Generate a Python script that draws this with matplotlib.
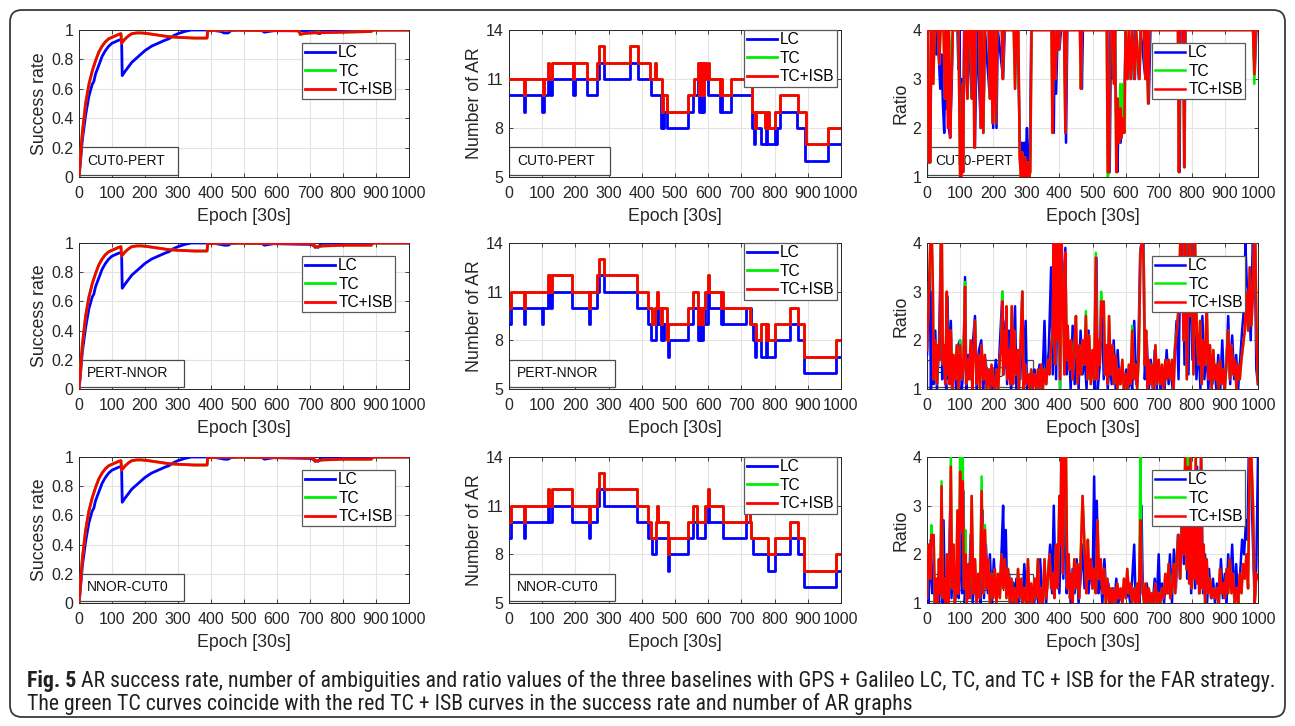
import numpy as np
import matplotlib.pyplot as plt
from matplotlib import font_manager
from matplotlib.patches import FancyBboxPatch, Rectangle

plt.rcParams['font.family'] = ['Liberation Sans', 'DejaVu Sans']

# ---------------- data ----------------
epoch_ticks = list(range(0, 1001, 100))
series_names = ["LC", "TC", "TC+ISB"]
baselines = ["CUT0-PERT", "PERT-NNOR", "NNOR-CUT0"]

# success rate, (epoch, value)
sr_cp_lc = [(0,0.0),(3,0.06),(10,0.25),(20,0.42),(30,0.55),(40,0.63),(45,0.65),(50,0.70),(60,0.76),
            (70,0.82),(80,0.86),(90,0.89),(100,0.91),(110,0.92),(120,0.93),(129,0.935),(131,0.69),
            (140,0.72),(160,0.78),(180,0.82),(200,0.86),(220,0.89),(240,0.91),(260,0.93),(272,0.94),
            (276,0.945),(285,0.96),(300,0.975),(320,0.99),(340,1.0),(400,1.0),(430,0.99),(440,0.98),
            (452,0.98),(460,0.995),(480,1.0),(555,0.995),(562,0.985),(575,0.99),(590,0.995),(700,0.995),
            (722,0.98),(730,0.975),(736,0.995),(880,0.995),(890,1.0),(1000,1.0)]
sr_cp_isb = [(0,0.0),(5,0.15),(10,0.30),(20,0.50),(30,0.63),(40,0.72),(50,0.79),(60,0.85),(70,0.89),
             (80,0.92),(90,0.94),(100,0.95),(110,0.96),(120,0.97),(127,0.975),(129,0.91),(140,0.94),
             (150,0.96),(160,0.975),(175,0.98),(190,0.98),(210,0.975),(240,0.965),(270,0.955),(300,0.95),
             (350,0.945),(388,0.945),(390,0.995),(430,1.0),(660,0.995),(668,0.99),(670,0.97),(680,0.975),
             (700,0.98),(800,0.985),(886,0.99),(890,1.0),(1000,1.0)]
sr_pn_lc = [(0,0.0),(3,0.06),(10,0.25),(20,0.42),(30,0.55),(40,0.63),(45,0.65),(50,0.70),(60,0.76),
            (70,0.82),(80,0.86),(90,0.89),(100,0.91),(110,0.92),(120,0.93),(129,0.935),(131,0.69),
            (140,0.72),(160,0.78),(180,0.82),(200,0.86),(220,0.89),(240,0.91),(260,0.93),(272,0.94),
            (276,0.945),(285,0.96),(300,0.975),(320,0.99),(340,1.0),(400,1.0),(430,0.99),(440,0.985),
            (452,0.985),(460,0.995),(480,1.0),(555,0.995),(562,0.985),(575,0.99),(590,0.995),(705,0.99),
            (715,0.975),(725,0.97),(732,0.99),(880,0.995),(890,1.0),(1000,1.0)]
sr_pn_isb = [(0,0.0),(5,0.15),(10,0.30),(20,0.50),(30,0.63),(40,0.72),(50,0.79),(60,0.85),(70,0.89),
             (80,0.92),(90,0.94),(100,0.95),(110,0.96),(120,0.97),(127,0.975),(129,0.91),(140,0.94),
             (150,0.96),(160,0.975),(175,0.98),(190,0.98),(210,0.975),(240,0.965),(270,0.955),(300,0.95),
             (350,0.945),(388,0.945),(390,0.995),(430,1.0),(705,0.995),(712,0.99),(715,0.97),(722,0.975),
             (740,0.98),(800,0.985),(886,0.985),(890,1.0),(1000,1.0)]
sr_nc_lc = [(0,0.0),(3,0.06),(10,0.25),(20,0.42),(30,0.55),(40,0.63),(45,0.65),(50,0.70),(60,0.76),
            (70,0.82),(80,0.86),(90,0.89),(100,0.91),(110,0.92),(120,0.93),(129,0.935),(131,0.69),
            (140,0.72),(160,0.78),(180,0.82),(200,0.86),(220,0.89),(240,0.91),(260,0.93),(272,0.94),
            (276,0.945),(285,0.96),(300,0.975),(320,0.99),(340,1.0),(400,1.0),(430,0.99),(440,0.985),
            (452,0.985),(460,0.995),(480,1.0),(555,0.995),(562,0.985),(575,0.99),(590,0.995),(705,0.99),
            (715,0.975),(725,0.97),(732,0.99),(880,0.995),(890,1.0),(1000,1.0)]
sr_nc_isb = [(0,0.0),(5,0.15),(10,0.30),(20,0.50),(30,0.63),(40,0.72),(50,0.79),(60,0.85),(70,0.89),
             (80,0.92),(90,0.94),(100,0.95),(110,0.96),(120,0.97),(127,0.975),(129,0.91),(140,0.94),
             (150,0.96),(160,0.975),(175,0.98),(190,0.98),(210,0.975),(240,0.965),(270,0.955),(300,0.95),
             (350,0.945),(388,0.945),(390,0.995),(430,1.0),(705,0.995),(712,0.99),(715,0.97),(722,0.975),
             (740,0.98),(800,0.985),(886,0.985),(890,1.0),(1000,1.0)]

# number of AR, (epoch where value starts, value)
ar_cp_lc = [(0,10),(45,9),(49,10),(100,9),(104,10),(118,11),(122,10),(131,11),(194,10),(198,11),(234,10),
            (264,11),(272,12),(287,11),(365,12),(388,11),(428,10),(458,8),(462,9),(465,8),(468,9),(477,8),
            (540,9),(555,10),(570,11),(573,9),(576,11),(579,9),(582,11),(585,9),(588,11),(600,10),(635,9),
            (640,10),(643,9),(670,10),(733,8),(738,7),(742,8),(760,7),(774,8),(778,7),(800,8),(803,7),
            (808,8),(815,9),(868,8),(893,6),(960,7),(1000,7)]
ar_cp_isb = [(0,11),(45,10),(49,11),(103,10),(106,11),(118,12),(121,11),(130,12),(192,11),(196,12),
             (235,11),(265,12),(272,13),(285,12),(365,13),(388,12),(425,11),(440,12),(443,11),(460,9),
             (464,10),(477,9),(540,10),(558,11),(570,12),(573,10),(576,12),(579,10),(582,12),(585,10),
             (588,12),(592,11),(598,12),(603,11),(635,10),(638,11),(641,10),(670,11),(733,9),(740,8),
             (743,9),(770,8),(778,9),(782,8),(800,9),(815,10),(870,9),(895,7),(960,8),(1000,8)]
ar_pn_lc = [(0,9),(5,10),(45,9),(48,10),(100,9),(103,10),(118,11),(122,10),(130,11),(190,10),(240,9),
            (243,10),(265,11),(272,12),(285,11),(385,10),(418,9),(428,8),(443,9),(446,10),(449,9),(458,8),
            (462,9),(465,8),(468,9),(478,7),(482,8),(540,9),(555,10),(570,8),(573,10),(576,8),(579,10),
            (582,8),(585,10),(590,9),(598,11),(603,10),(640,9),(643,10),(646,9),(715,10),(728,9),(735,8),
            (740,7),(745,8),(760,7),(774,8),(778,7),(800,8),(845,9),(870,8),(890,6),(985,7),(1000,7)]
ar_pn_isb = [(0,10),(5,11),(45,10),(48,11),(118,12),(122,11),(130,12),(190,11),(240,10),(243,11),
             (265,12),(272,13),(285,12),(385,11),(420,10),(430,9),(440,10),(447,11),(450,10),(458,9),
             (462,10),(475,8),(478,9),(540,10),(555,11),(570,9),(573,10),(576,9),(579,10),(582,9),
             (585,10),(590,11),(598,12),(603,11),(640,10),(643,11),(646,10),(725,9),(745,8),(760,9),
             (775,8),(778,9),(781,8),(800,9),(845,10),(870,9),(890,7),(985,8),(1000,8)]
ar_nc_lc = [(0,9),(5,10),(45,9),(48,10),(118,11),(121,10),(130,11),(190,10),(240,9),(243,10),(265,11),
            (272,12),(285,11),(385,10),(420,9),(430,8),(443,9),(478,7),(482,8),(540,9),(555,10),(565,9),
            (590,10),(598,11),(602,10),(645,9),(715,10),(730,9),(735,8),(780,7),(800,8),(845,9),(870,8),
            (890,6),(985,7),(1000,7)]
ar_nc_isb = [(0,10),(5,11),(45,10),(48,11),(118,12),(121,11),(130,12),(190,11),(240,10),(243,11),
             (265,12),(272,13),(285,12),(385,11),(420,10),(428,9),(443,10),(447,11),(450,10),(478,8),
             (481,9),(540,10),(555,11),(565,10),(590,11),(598,12),(602,11),(645,10),(715,11),(725,10),
             (730,9),(780,8),(800,9),(845,10),(870,9),(890,7),(985,8),(1000,8)]
# the TC curves coincide with TC+ISB for success rate and number of AR
sr_cp_tc, sr_pn_tc, sr_nc_tc = list(sr_cp_isb), list(sr_pn_isb), list(sr_nc_isb)
ar_cp_tc, ar_pn_tc, ar_nc_tc = list(ar_cp_isb), list(ar_pn_isb), list(ar_nc_isb)

# ratio, (epoch, value) ; values above 4 shown at 4
rt_cp_lc = [(0,3.2),(3,4.0),(5,1.3),(10,1.3),(13,4.0),(18,3.0),(22,4.0),(28,3.5),(32,4.0),(36,3.4),
            (40,2.8),(44,3.5),(48,2.5),(52,1.9),(55,3.3),(58,2.4),(62,3.4),(66,2.0),(70,1.8),(75,3.0),
            (78,4.0),(92,4.0),(95,3.2),(98,4.0),(102,1.0),(106,3.0),(109,1.1),(112,4.0),(122,2.6),
            (126,4.0),(135,2.6),(140,4.0),(145,1.6),(150,4.0),(163,2.0),(166,4.0),(170,1.9),(175,4.0),
            (190,2.6),(195,4.0),(200,2.0),(205,4.0),(210,2.0),(214,4.0),(230,3.0),(235,4.0),(270,4.0),
            (276,3.2),(282,1.2),(286,1.7),(290,1.0),(294,1.7),(298,1.3),(302,2.0),(306,1.0),(310,1.0),
            (315,4.0),(380,4.0),(383,1.9),(386,4.0),(390,2.7),(395,4.0),(400,3.6),(405,4.0),(415,4.0),
            (420,1.7),(424,4.0),(465,4.0),(468,2.8),(471,4.0),(545,4.0),(548,1.1),(552,1.1),(556,4.0),
            (562,3.0),(565,3.2),(568,4.0),(572,2.0),(575,1.1),(580,2.5),(585,1.7),(590,2.3),(595,1.9),
            (600,4.0),(605,3.0),(610,4.0),(615,3.0),(620,4.0),(625,3.0),(630,4.0),(640,3.0),(645,4.0),
            (660,3.0),(663,4.0),(670,2.5),(675,4.0),(760,4.0),(763,1.1),(766,4.0),(775,4.0),(778,1.2),
            (781,4.0),(985,4.0),(990,3.1),(995,4.0),(1000,4.0)]
rt_cp_isb = [(0,4.0),(3,4.0),(5,1.3),(10,1.3),(13,4.0),(19,2.9),(23,4.0),(33,4.0),(37,3.3),(41,4.0),
             (50,4.0),(54,2.6),(58,4.0),(63,2.0),(66,4.0),(70,1.8),(74,3.0),(78,4.0),(95,4.0),(100,1.0),
             (104,1.0),(107,2.9),(109,1.1),(113,4.0),(118,4.0),(122,2.6),(126,4.0),(133,4.0),(136,2.6),
             (140,4.0),(143,1.6),(147,4.0),(158,4.0),(162,2.0),(166,4.0),(170,1.9),(175,4.0),(186,4.0),
             (190,2.6),(194,4.0),(198,2.1),(203,4.0),(208,2.1),(212,4.0),(226,4.0),(229,3.0),(233,4.0),
             (262,4.0),(266,2.8),(270,4.0),(276,4.0),(280,1.4),(284,1.0),(288,1.5),(292,1.0),(296,1.4),
             (300,1.0),(304,1.3),(308,1.0),(312,1.1),(316,4.0),(376,4.0),(379,1.9),(383,4.0),(388,3.0),
             (392,4.0),(398,3.6),(402,4.0),(414,4.0),(418,1.9),(422,4.0),(462,4.0),(465,2.8),(468,4.0),
             (543,4.0),(546,1.1),(550,1.1),(554,4.0),(562,4.0),(565,2.9),(568,4.0),(572,1.1),(576,2.6),
             (580,1.7),(584,2.4),(588,1.8),(592,2.2),(596,1.9),(600,4.0),(606,3.0),(610,4.0),(616,3.0),
             (620,4.0),(628,3.0),(632,4.0),(642,3.0),(646,4.0),(655,4.0),(660,3.0),(663,4.0),(668,2.5),
             (672,4.0),(758,4.0),(761,1.1),(764,4.0),(774,4.0),(777,1.2),(780,4.0),(985,4.0),(989,3.1),
             (993,4.0),(1000,4.0)]
rt_cp_tc_peaks = {63: 4.0, 70: 3.6, 546: 1.0, 584: 2.9, 592: 2.9, 989: 2.9}

rt_pn_lc = [(0,1.7),(4,2.5),(8,3.4),(12,1.0),(16,3.0),(20,1.1),(25,2.2),(30,1.0),(36,1.8),(42,4.0),
            (46,1.2),(52,1.7),(58,1.0),(62,2.9),(66,1.2),(72,2.4),(76,1.0),(82,1.6),(88,1.0),(94,1.9),
            (100,2.0),(105,1.0),(110,1.4),(115,3.3),(119,1.0),(125,1.7),(132,1.2),(138,1.9),(145,2.5),
            (150,1.0),(157,1.8),(164,2.0),(170,1.0),(177,1.6),(183,1.1),(190,1.4),(196,1.0),(202,1.2),
            (208,1.6),(214,1.0),(220,1.9),(228,3.0),(232,1.3),(238,2.4),(242,1.1),(248,2.2),(254,1.0),
            (260,1.5),(266,2.7),(270,1.0),(276,1.8),(282,1.2),(288,3.0),(292,1.0),(298,2.4),(302,1.0),
            (310,1.3),(318,1.0),(325,1.4),(332,1.0),(340,1.5),(348,1.0),(355,2.4),(360,1.1),(368,1.8),
            (375,3.5),(380,1.3),(385,3.8),(390,1.2),(396,4.0),(402,1.0),(407,4.0),(412,2.5),(418,3.9),
            (422,1.3),(428,2.0),(434,1.0),(440,2.3),(446,1.1),(452,1.9),(458,1.0),(464,2.2),(470,1.3),
            (476,1.7),(482,1.0),(488,2.2),(494,1.2),(500,1.6),(506,1.0),(512,3.7),(516,1.0),(522,1.5),
            (528,2.8),(534,1.2),(540,1.9),(546,1.0),(552,1.6),(558,1.1),(564,2.0),(570,1.0),(576,1.8),
            (582,1.1),(590,1.5),(596,1.0),(602,1.4),(608,1.0),(614,1.2),(620,1.0),(626,2.4),(632,1.1),
            (638,1.6),(644,3.8),(648,4.0),(654,4.0),(658,1.2),(664,2.0),(670,1.0),(676,1.6),(682,1.0),
            (688,1.8),(694,1.0),(700,1.5),(706,1.0),(712,1.4),(718,1.0),(724,1.8),(730,1.1),(736,1.5),
            (742,1.0),(748,1.7),(754,2.4),(760,1.2),(766,4.0),(772,4.0),(778,1.5),(784,4.0),(790,1.3),
            (796,4.0),(802,1.6),(808,4.0),(814,1.2),(820,2.0),(826,1.0),(832,2.5),(838,1.2),(844,1.9),
            (850,1.0),(856,1.7),(862,1.1),(868,1.5),(874,1.0),(880,1.7),(886,1.0),(892,2.0),(898,1.0),
            (904,1.4),(910,2.5),(916,1.1),(922,2.1),(928,1.2),(934,1.7),(940,1.0),(946,1.6),(952,2.2),
            (958,2.7),(962,4.0),(966,3.2),(972,2.9),(978,2.0),(984,4.0),(990,4.0),(995,1.4),(1000,1.1)]
rt_pn_isb = [(0,1.8),(5,2.8),(10,4.0),(15,4.0),(18,3.0),(20,1.2),(25,2.0),(30,1.1),(33,1.9),(38,1.6),
             (42,4.0),(45,4.0),(48,1.5),(52,1.9),(55,1.1),(60,3.0),(62,1.3),(65,2.2),(68,1.1),(72,2.2),
             (76,1.0),(80,1.7),(85,1.2),(90,1.9),(95,1.0),(100,1.9),(105,1.2),(110,1.5),(115,3.1),
             (118,1.1),(122,1.6),(127,1.2),(132,2.0),(137,1.0),(140,1.6),(145,2.4),(150,1.1),(155,1.7),
             (160,1.0),(165,1.9),(170,1.2),(175,1.7),(180,1.0),(185,1.4),(190,1.0),(195,1.5),(200,1.1),
             (205,1.0),(210,1.4),(215,1.0),(220,1.6),(225,2.0),(228,2.8),(230,1.3),(234,2.2),(238,1.5),
             (240,2.7),(243,1.2),(247,1.8),(252,1.1),(256,2.7),(260,1.1),(263,2.2),(268,1.3),(273,1.8),
             (278,1.0),(283,2.0),(288,3.0),(292,1.0),(296,1.5),(300,1.1),(305,1.3),(310,1.0),(315,1.4),
             (320,1.0),(325,1.3),(330,1.0),(335,1.4),(340,1.0),(345,1.5),(350,1.0),(355,1.4),(360,1.1),
             (365,1.6),(370,1.3),(375,1.9),(380,2.2),(383,4.0),(387,1.5),(390,4.0),(395,2.0),(398,4.0),
             (402,1.2),(406,4.0),(410,3.0),(415,1.3),(418,3.8),(422,1.6),(425,2.3),(430,1.4),(435,2.0),
             (440,1.2),(445,1.8),(450,2.5),(455,1.1),(460,1.9),(465,1.3),(470,2.0),(475,1.5),(480,2.5),
             (485,1.2),(490,2.1),(495,1.1),(500,1.8),(505,1.2),(510,3.7),(514,1.2),(518,2.0),(522,1.5),
             (526,2.8),(530,2.5),(534,2.8),(538,1.3),(542,1.9),(546,1.1),(550,2.5),(555,1.3),(560,1.9),
             (565,1.1),(570,1.7),(575,1.0),(580,1.4),(585,1.1),(590,1.6),(595,1.0),(600,1.3),(605,1.0),
             (610,1.5),(615,1.1),(620,2.2),(625,1.2),(630,1.5),(635,1.0),(640,1.7),(645,3.8),(648,4.0),
             (652,4.0),(655,3.5),(658,1.5),(662,2.2),(666,1.0),(670,1.6),(675,1.1),(680,1.5),(685,1.0),
             (690,1.9),(695,1.1),(700,1.6),(705,1.1),(710,1.5),(715,1.0),(720,1.6),(725,1.2),(730,1.6),
             (735,1.2),(740,1.6),(745,1.0),(750,1.9),(755,2.2),(760,2.7),(765,4.0),(770,4.0),(775,2.0),
             (780,4.0),(785,1.2),(790,4.0),(795,2.5),(800,4.0),(805,1.3),(810,4.0),(815,2.2),(820,1.5),
             (825,2.4),(830,1.1),(835,2.0),(840,1.5),(845,2.8),(850,1.2),(855,1.9),(860,1.0),(865,1.8),
             (870,1.2),(875,1.5),(880,1.0),(885,1.6),(890,1.1),(895,1.4),(900,1.0),(905,1.6),(910,2.2),
             (915,1.2),(920,1.9),(925,1.3),(930,1.6),(935,1.0),(940,1.5),(945,1.2),(950,1.6),(955,1.9),
             (960,2.2),(965,3.0),(970,2.2),(975,3.5),(980,2.3),(985,3.0),(988,4.0),(992,4.0),(996,2.0),
             (1000,1.1)]
rt_pn_tc_peaks = {5: 2.8, 60: 3.0, 100: 2.0, 115: 3.2, 228: 3.0, 288: 3.0, 402: 1.0, 480: 2.6,
                  510: 3.8, 526: 3.0, 620: 2.3, 750: 2.0}

rt_nc_lc = [(0,1.6),(4,1.0),(8,1.5),(12,2.3),(16,1.2),(20,1.5),(24,1.0),(30,1.3),(36,1.0),(42,1.9),
            (46,1.0),(50,2.7),(54,1.0),(60,1.7),(64,1.0),(70,2.9),(74,1.1),(80,2.0),(84,1.0),(90,1.5),
            (96,1.1),(100,2.5),(106,1.2),(110,3.3),(114,1.0),(120,1.5),(126,1.1),(132,2.4),(138,1.0),
            (144,1.6),(150,1.0),(156,1.4),(162,1.0),(168,2.9),(172,1.1),(178,2.2),(184,1.2),(190,2.0),
            (196,1.0),(202,1.9),(208,1.1),(214,1.5),(220,1.2),(226,2.2),(230,3.0),(234,1.4),(238,2.5),
            (242,1.2),(248,1.6),(254,1.0),(258,1.4),(264,1.0),(270,1.5),(276,1.0),(282,1.3),(288,1.0),
            (294,1.8),(300,1.1),(306,1.4),(312,1.0),(318,1.2),(324,1.0),(330,1.4),(336,1.0),(342,1.9),
            (348,1.1),(354,1.5),(360,1.0),(366,1.6),(372,2.2),(378,1.2),(383,3.0),(388,1.4),(394,2.0),
            (400,1.2),(404,2.2),(408,4.0),(412,1.5),(416,4.0),(422,1.2),(428,1.8),(434,1.0),(440,1.7),
            (446,1.2),(452,1.9),(458,1.0),(464,1.5),(470,2.2),(476,1.3),(482,1.7),(488,1.2),(494,1.8),
            (500,1.3),(505,3.6),(509,1.5),(513,3.1),(518,1.2),(524,1.6),(530,1.0),(536,1.9),(542,1.1),
            (548,1.4),(554,1.0),(560,1.3),(566,1.0),(572,1.5),(578,1.0),(584,1.2),(590,1.0),(596,1.4),
            (602,1.1),(608,1.3),(614,1.0),(620,1.5),(626,2.2),(630,1.1),(636,1.3),(642,1.0),(648,3.0),
            (652,1.2),(658,1.0),(664,1.4),(670,1.0),(676,1.2),(682,1.0),(688,1.5),(694,1.0),(700,2.0),
            (704,1.1),(710,1.4),(716,1.0),(722,1.5),(728,1.2),(734,2.0),(740,1.0),(746,2.1),(752,1.3),
            (758,2.4),(764,1.5),(770,2.9),(776,1.8),(782,4.0),(786,1.5),(792,3.5),(798,1.2),(804,2.5),
            (810,1.3),(816,3.8),(822,1.2),(828,4.0),(834,1.2),(840,2.0),(846,1.0),(852,1.7),(858,1.1),
            (864,1.5),(870,1.0),(876,1.4),(882,1.0),(888,1.9),(894,1.1),(900,1.6),(905,1.0),(910,2.0),
            (916,1.3),(922,2.2),(928,1.1),(934,1.8),(940,1.0),(946,1.6),(952,2.3),(958,2.0),(964,2.7),
            (968,2.3),(972,4.0),(978,4.0),(984,2.4),(990,1.0),(995,1.8),(1000,4.0)]
rt_nc_isb = [(0,1.1),(3,2.0),(6,2.2),(10,1.5),(13,2.4),(16,2.2),(20,2.4),(24,1.0),(28,1.5),(32,1.0),
             (36,1.9),(40,1.2),(44,3.4),(48,1.1),(52,1.5),(56,1.0),(60,2.0),(64,1.0),(68,1.5),(72,3.8),
             (76,1.3),(80,2.2),(84,1.0),(88,1.2),(92,2.9),(96,1.2),(100,3.7),(104,2.5),(108,3.5),
             (112,1.3),(116,2.0),(120,1.0),(125,1.8),(130,1.1),(135,3.2),(140,1.2),(145,1.9),(150,1.0),
             (155,1.6),(160,1.1),(165,3.3),(170,1.2),(175,2.5),(180,1.3),(185,1.9),(190,1.0),(195,1.6),
             (200,1.1),(205,1.7),(210,1.0),(215,1.6),(220,1.1),(225,2.0),(230,1.3),(235,1.9),(240,1.1),
             (245,1.7),(250,1.0),(255,1.5),(260,1.0),(265,1.3),(270,1.0),(275,1.7),(280,1.1),(285,1.5),
             (290,1.0),(295,1.3),(300,1.0),(305,1.9),(310,1.0),(315,1.4),(320,1.0),(325,1.5),(330,1.1),
             (335,1.9),(340,1.0),(345,1.3),(350,1.0),(355,1.9),(360,1.1),(365,1.5),(370,2.0),(375,1.3),
             (380,1.6),(385,1.1),(390,2.2),(395,1.3),(400,3.2),(403,2.2),(406,4.0),(410,1.6),(415,4.0),
             (420,4.0),(424,1.3),(428,2.0),(432,1.1),(436,1.6),(440,1.0),(445,1.9),(450,1.3),(455,1.8),
             (460,1.1),(465,2.1),(470,3.2),(474,2.5),(478,1.8),(482,1.2),(486,2.3),(490,1.5),(495,1.9),
             (500,1.3),(505,1.7),(510,1.2),(515,2.7),(520,1.5),(525,1.9),(530,1.2),(535,1.7),(540,1.0),
             (545,1.5),(550,1.0),(555,1.3),(560,1.0),(565,1.3),(570,1.0),(575,1.4),(580,1.1),(585,1.3),
             (590,1.0),(595,1.5),(600,1.1),(605,1.7),(610,1.2),(615,1.4),(620,1.0),(625,1.3),(630,1.0),
             (635,1.4),(640,1.0),(645,2.7),(648,1.6),(652,1.2),(656,1.0),(660,1.4),(665,1.0),(670,1.3),
             (675,1.0),(680,1.2),(685,1.0),(690,1.4),(695,1.0),(700,1.2),(705,1.0),(710,1.3),(715,1.1),
             (720,1.6),(725,1.2),(730,1.8),(735,1.1),(740,1.3),(745,1.8),(750,1.2),(755,2.0),(760,2.4),
             (765,1.5),(770,2.6),(775,2.0),(780,4.0),(784,1.7),(788,3.8),(792,1.4),(796,4.0),(800,1.3),
             (804,2.8),(808,1.5),(812,4.0),(816,1.4),(820,3.5),(824,1.2),(828,4.0),(832,1.3),(836,2.2),
             (840,1.0),(845,1.9),(850,1.2),(855,1.5),(860,1.1),(865,1.3),(870,1.1),(875,1.3),(880,1.0),
             (885,1.7),(890,1.2),(895,1.4),(900,1.1),(905,1.7),(910,1.2),(915,1.9),(920,1.2),(925,1.6),
             (930,1.0),(935,1.3),(940,1.0),(945,1.6),(950,1.2),(955,1.8),(960,1.5),(965,2.0),(970,1.3),
             (975,4.0),(980,4.0),(985,3.0),(990,1.0),(995,1.6),(1000,1.5)]
rt_nc_tc_peaks = {13: 2.6, 44: 3.5, 72: 4.0, 100: 4.0, 108: 4.0, 116: 2.5, 165: 3.6, 175: 2.6,
                  486: 2.3, 645: 4.0, 788: 4.0, 828: 4.0}

# TC ratio: same epochs as TC+ISB, with the peaks where green shows
rt_cp_tc = [(e, rt_cp_tc_peaks.get(e, v)) for e, v in rt_cp_isb]
rt_pn_tc = [(e, rt_pn_tc_peaks.get(e, v)) for e, v in rt_pn_isb]
rt_nc_tc = [(e, rt_nc_tc_peaks.get(e, v)) for e, v in rt_nc_isb]

caption_bold = "Fig. 5"
caption_1 = ("AR success rate, number of ambiguities and ratio values of the three baselines with "
             "GPS + Galileo LC, TC, and TC + ISB for the FAR strategy.")
caption_2 = "The green TC curves coincide with the red TC + ISB curves in the success rate and number of AR graphs"

# ---------------- layout ----------------
W, H = 1295, 726
fig = plt.figure(figsize=(W / 100, H / 100), dpi=100)

col_x = [(79, 409), (509, 841), (927, 1258)]
row_y = [(30, 177), (243, 389), (457, 603)]

colors = ["#0000ff", "#00ee00", "#ff0000"]
txt_col = "#262626"

# frame + caption layer in pixel coordinates
bg = fig.add_axes([0, 0, 1, 1])
bg.set_xlim(0, W)
bg.set_ylim(H, 0)
bg.axis("off")
bg.add_patch(FancyBboxPatch((10, 10), W - 20, H - 19, boxstyle="round,pad=0,rounding_size=12",
                            fill=False, ec="#3a3a3a", lw=1.3))

avail = {f.name for f in font_manager.fontManager.ttflist}
cap_font = next((f for f in ["Liberation Sans Narrow", "Roboto Condensed", "Open Sans Condensed",
                             "Liberation Sans"] if f in avail), "DejaVu Sans")


def xy(pairs):
    a = np.array(pairs, dtype=float)
    return a[:, 0], a[:, 1]


def panel(col, row, kind, data, name, box_w, box_h, leg_anchor):
    x0, x1 = col_x[col]
    y0, y1 = row_y[row]
    ax = fig.add_axes([x0 / W, 1 - y1 / H, (x1 - x0) / W, (y1 - y0) / H])
    lines = []
    for pairs, c in zip(data, colors):
        x, y = xy(pairs)
        if kind == "ar":
            ln, = ax.step(x, y, where="post", color=c, lw=2.0, zorder=3)
        else:
            ln, = ax.plot(x, y, color=c, lw=2.0 if kind == "sr" else 1.8, zorder=3)
        lines.append(ln)
    ax.set_xlim(0, 1000)
    ax.set_xticks(epoch_ticks)
    if kind == "sr":
        ax.set_ylim(0, 1)
        ax.set_yticks([0, 0.2, 0.4, 0.6, 0.8, 1])
        ax.set_yticklabels(["0", "0.2", "0.4", "0.6", "0.8", "1"])
        ax.set_ylabel("Success rate", fontsize=12.8, color=txt_col, labelpad=2)
    elif kind == "ar":
        ax.set_ylim(5, 14)
        ax.set_yticks([5, 8, 11, 14])
        ax.set_ylabel("Number of AR", fontsize=12.8, color=txt_col, labelpad=2)
    else:
        ax.set_ylim(1, 4)
        ax.set_yticks([1, 2, 3, 4])
        ax.set_ylabel("Ratio", fontsize=12.8, color=txt_col, labelpad=2)
    ax.set_xlabel("Epoch [30s]", fontsize=12.8, color=txt_col, labelpad=5)
    ax.grid(True, color="#e3e3e3", lw=0.8)
    ax.set_axisbelow(True)
    ax.tick_params(direction="in", length=3, width=0.6, top=True, right=True,
                   labelsize=11.5, colors=txt_col, pad=4)
    ax.tick_params(axis="x", pad=6.5)
    for s in ax.spines.values():
        s.set_color(txt_col)
        s.set_linewidth(0.7)

    ax.add_patch(Rectangle((0, 0.012), box_w, box_h, transform=ax.transAxes, fc="white",
                           ec="#4a4a4a", lw=0.9, zorder=2))
    ax.text(0.025, 0.11, name, transform=ax.transAxes, fontsize=10, va="center", ha="left",
            color="#111111", zorder=2.1)

    leg = ax.legend(lines, series_names, loc="upper right", bbox_to_anchor=leg_anchor,
                    borderaxespad=0, fontsize=11.2, handlelength=1.95, handletextpad=0.2,
                    borderpad=0.15, labelspacing=0.22, fancybox=False, framealpha=1,
                    edgecolor="#5a5a5a")
    leg.get_frame().set_linewidth(0.9)
    leg.set_zorder(5)
    return ax


sr_sets = [(sr_cp_lc, sr_cp_tc, sr_cp_isb), (sr_pn_lc, sr_pn_tc, sr_pn_isb), (sr_nc_lc, sr_nc_tc, sr_nc_isb)]
ar_sets = [(ar_cp_lc, ar_cp_tc, ar_cp_isb), (ar_pn_lc, ar_pn_tc, ar_pn_isb), (ar_nc_lc, ar_nc_tc, ar_nc_isb)]
rt_sets = [(rt_cp_lc, rt_cp_tc, rt_cp_isb), (rt_pn_lc, rt_pn_tc, rt_pn_isb), (rt_nc_lc, rt_nc_tc, rt_nc_isb)]

for r in range(3):
    panel(0, r, "sr", sr_sets[r], baselines[r], 0.30 if r == 0 else 0.317, 0.19, (0.958, 0.912))
    panel(1, r, "ar", ar_sets[r], baselines[r], 0.305 if r == 0 else 0.32, 0.19, (0.988, 1.0))
    panel(2, r, "rt", rt_sets[r], baselines[r], 0.285 if r == 0 else 0.32, 0.19, (0.961, 0.912))

# caption, fitted to the frame width
renderer = fig.canvas.get_renderer()
fs = 12.0
t_b = bg.text(27, 687, caption_bold, fontsize=fs, fontweight="bold", family=cap_font,
              color="#231f20", va="baseline")
t_1 = bg.text(0, 687, " " + caption_1, fontsize=fs, family=cap_font, color="#231f20", va="baseline")
wb = t_b.get_window_extent(renderer).width
w1 = t_1.get_window_extent(renderer).width
fs = min(16.0, fs * (1275 - 27) / (wb + w1))
t_b.set_fontsize(fs)
t_1.set_fontsize(fs)
wb = t_b.get_window_extent(renderer).width
t_1.set_x(27 + wb)
bg.text(27, 710, caption_2, fontsize=fs, family=cap_font, color="#231f20", va="baseline")

fig.savefig("out.png", dpi=100)
